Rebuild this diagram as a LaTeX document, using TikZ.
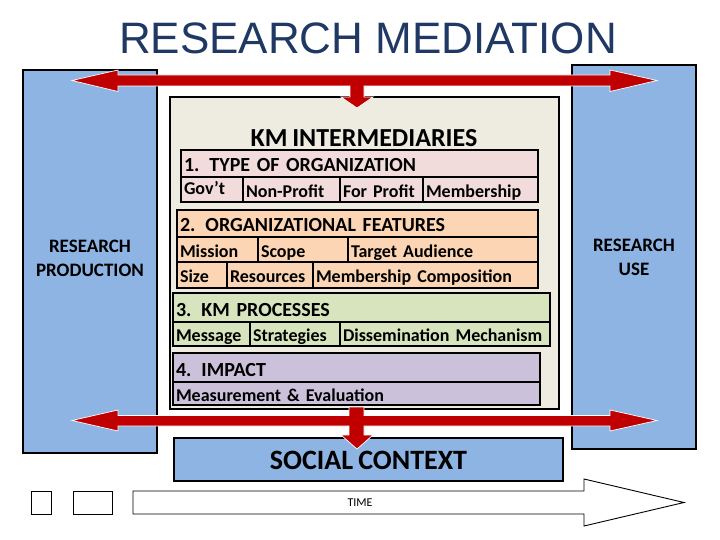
\documentclass[tikz,border=0pt]{standalone}
\usepackage{fontspec}
\setmainfont[WordSpace=0.8]{Carlito}
\newfontfamily\titlefont{Liberation Sans}
\usetikzlibrary{positioning}

\definecolor{titleblue}{RGB}{31,56,100}
\definecolor{sideblue}{HTML}{8EB4E3}
\definecolor{kmbeige}{HTML}{EEECE1}
\definecolor{orgpink}{HTML}{F2DCDB}
\definecolor{featpeach}{HTML}{FCD5B4}
\definecolor{procgreen}{HTML}{D7E4BD}
\definecolor{imppurple}{HTML}{CCC1DA}
\definecolor{medred}{HTML}{C00000}

\tikzset{
  cell/.style={draw, line width=1.6pt, inner xsep=3pt, inner ysep=0pt, outer sep=0pt,
    align=left, anchor=north west, text height=16pt, text depth=1pt,
    font=\bfseries\fontsize{18}{19}\selectfont},
  headcell/.style={cell, text height=18pt, text depth=1pt, font=\bfseries\fontsize{20}{22}\selectfont},
  sidebox/.style={draw, line width=1.8pt, fill=sideblue, outer sep=0pt, align=center,
    anchor=north west, font=\bfseries\fontsize{19}{24}\selectfont},
  bigarrow/.style={fill=medred, draw=white, line width=0.7pt},
  thinbox/.style={draw, line width=0.9pt, fill=white, outer sep=0pt},
}

\begin{document}
\begin{tikzpicture}[x=1pt, y=-1pt]
\useasboundingbox (0,0) rectangle (720,540);

% --- Title
\node[font=\titlefont\fontsize{44}{44}\selectfont, text=titleblue, anchor=base] (title) at (368,54) {RESEARCH MEDIATION};

% --- Production and use columns
\node[sidebox, minimum width=134pt, minimum height=383pt] (prod) at (23,70) {};
\node[sidebox, minimum width=124pt, minimum height=384pt] (use) at (572,65) {};
\node[font=\bfseries\fontsize{19}{24}\selectfont, align=center] (prodlabel) at ([yshift=3.5pt]prod.center) {RESEARCH\\PRODUCTION};
\node[font=\bfseries\fontsize{19}{24}\selectfont, align=center] (uselabel) at (use.center) {RESEARCH\\USE};

% --- KM intermediaries frame
\node[draw, line width=2pt, fill=kmbeige, outer sep=0pt, anchor=north west,
  minimum width=389pt, minimum height=312pt] (km) at (170,97) {};
\node[font=\bfseries\fontsize{26}{26}\selectfont, anchor=base] (kmtitle) at (364,147) {KM INTERMEDIARIES};

% --- 1. Type of organization
\node[headcell, fill=orgpink, text width=351pt, minimum height=27pt] (org) at (181,150) {1.\hspace{10pt}TYPE OF ORGANIZATION};
\node[cell, fill=orgpink, text width=56pt, minimum height=25pt, text height=16pt, text depth=6.5pt] (gov) at (org.south west) {Gov't};
\node[cell, fill=orgpink, text width=91pt, minimum height=25pt, right=0pt of gov] (nonprofit) {Non-Profit};
\node[cell, fill=orgpink, text width=77pt, minimum height=25pt, right=0pt of nonprofit] (forprofit) {For Profit};
\node[cell, fill=orgpink, text width=109pt, minimum height=25pt, right=0pt of forprofit] (member) {Membership};

% --- 2. Organizational features
\node[headcell, fill=featpeach, text width=355pt, minimum height=27pt] (feat) at (177,210) {2.\hspace{10pt}ORGANIZATIONAL FEATURES};
\node[cell, fill=featpeach, text width=75pt, minimum height=25pt] (mission) at (feat.south west) {Mission};
\node[cell, fill=featpeach, text width=84pt, minimum height=25pt, right=0pt of mission] (scope) {Scope};
\node[cell, fill=featpeach, text width=184pt, minimum height=25pt, right=0pt of scope] (audience) {Target Audience};
\node[cell, fill=featpeach, text width=44pt, minimum height=26pt] (size) at (mission.south west) {Size};
\node[cell, fill=featpeach, text width=80pt, minimum height=26pt, right=0pt of size] (resources) {Resources};
\node[cell, fill=featpeach, text width=219pt, minimum height=26pt, right=0pt of resources] (composition) {Membership Composition};

% --- 3. KM processes
\node[headcell, fill=procgreen, text width=371pt, minimum height=29pt] (proc) at (173,293) {3.\hspace{10pt}KM PROCESSES};
\node[cell, fill=procgreen, text width=71pt, minimum height=24pt] (message) at (proc.south west) {Message};
\node[cell, fill=procgreen, text width=84pt, minimum height=24pt, right=0pt of message] (strategies) {Strategies};
\node[cell, fill=procgreen, text width=204pt, minimum height=24pt, right=0pt of strategies] (dissem) {Dissemination Mechanism};

% --- 4. Impact
\node[headcell, fill=imppurple, text width=361pt, minimum height=29pt] (impact) at (173,353) {4.\hspace{10pt}IMPACT};
\node[cell, fill=imppurple, text width=361pt, minimum height=23pt] (measure) at (impact.south west) {Measurement \& Evaluation};

% --- Social context
\node[sidebox, minimum width=389pt, minimum height=43pt, text height=20pt, text depth=0pt,
  font=\bfseries\fontsize{28}{28}\selectfont] (social) at (174,438) {SOCIAL CONTEXT};

% --- Mediation arrows
\draw[bigarrow] (72,80.5) -- (118,70) -- (118,75) -- (610,75) -- (610,70) -- (657,80.5)
  -- (610,91.5) -- (610,86) -- (364,86) -- (364,97) -- (373,97) -- (357,108)
  -- (341,97) -- (350,97) -- (350,86) -- (118,86) -- (118,91.5) -- cycle;
\draw[bigarrow] (72,420.5) -- (118,410) -- (118,415.5) -- (349,415.5) -- (349,407)
  -- (364,407) -- (364,415.5) -- (610,415.5) -- (610,410) -- (657,420.5) -- (610,431)
  -- (610,426) -- (364,426) -- (364,435) -- (373,435) -- (357,449) -- (341,435)
  -- (349,435) -- (349,426) -- (118,426) -- (118,431) -- cycle;

% --- Time line
\node[thinbox, minimum width=20pt, minimum height=23pt, anchor=north west] (tick1) at (31,491) {};
\node[thinbox, minimum width=39pt, minimum height=23pt, right=22pt of tick1] (tick2) {};
\draw[thinbox] (133,491) -- (584,491) -- (584,479) -- (684,502.5) -- (584,526)
  -- (584,514) -- (133,514) -- cycle;
\node[font=\fontsize{12}{12}\selectfont] (time) at (360,502.5) {TIME};

\end{tikzpicture}
\end{document}
